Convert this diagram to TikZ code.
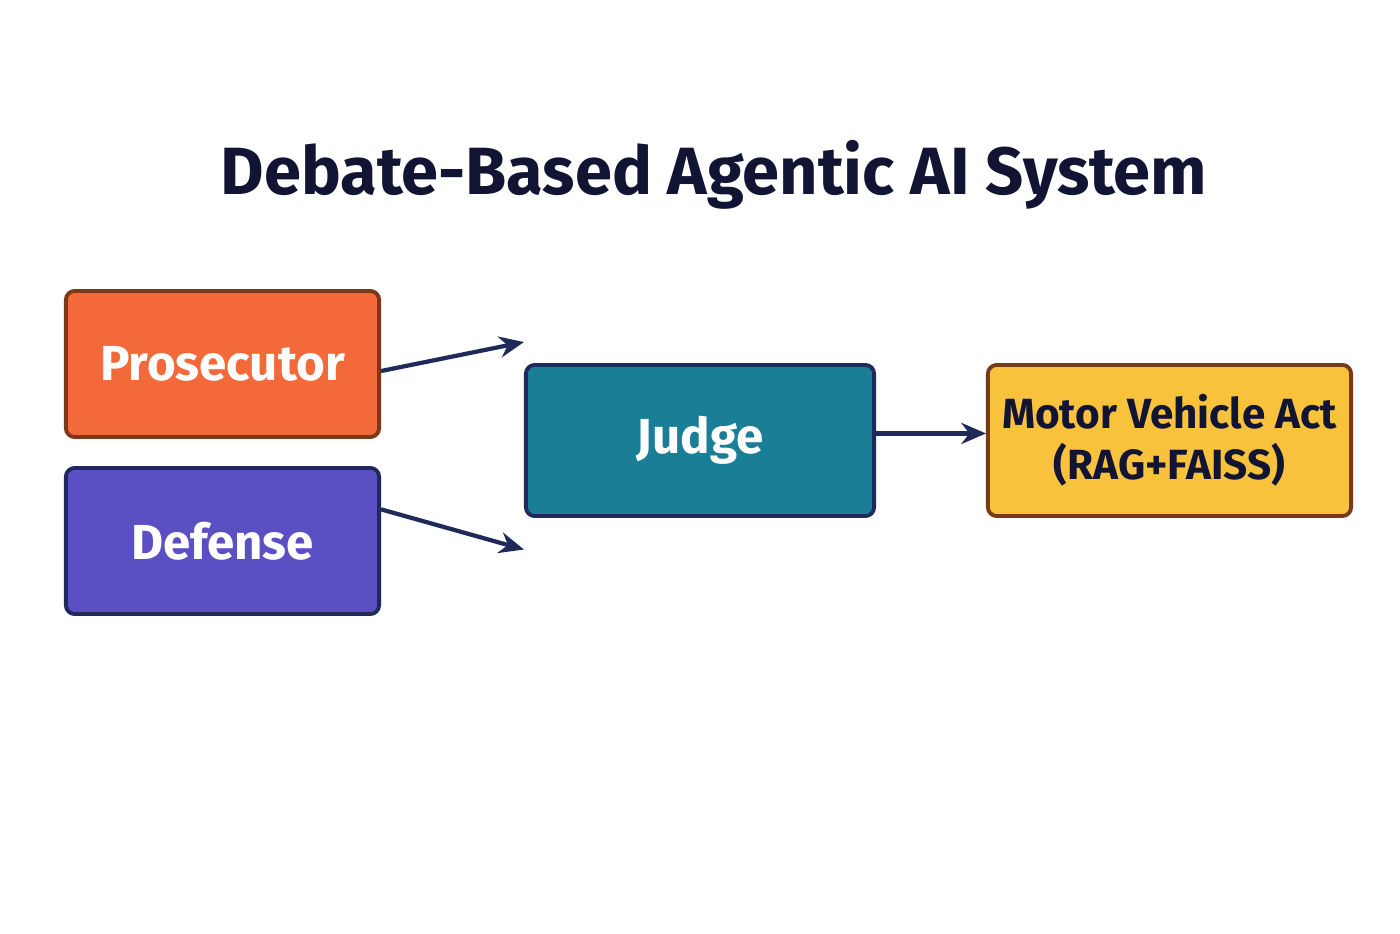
\documentclass[tikz,border=0pt]{standalone}
\usepackage{fontspec}
\setmainfont{Fira Sans}
\usetikzlibrary{arrows.meta}
\definecolor{navy}{HTML}{1F2A5A}
\definecolor{brownb}{HTML}{7A3A1A}
\definecolor{cpros}{HTML}{F4693A}
\definecolor{cdef}{HTML}{5B4FC4}
\definecolor{cjudge}{HTML}{1A7F96}
\definecolor{cmva}{HTML}{F9C23C}
\definecolor{ctext}{HTML}{111533}
\tikzset{
  box/.style={draw, line width=1.1pt, rounded corners=2.5pt, minimum width=3.13cm, minimum height=1.46cm, font=\fontsize{14}{16}\selectfont\bfseries, inner sep=0pt},
  conn/.style={draw=navy, line width=1.2pt, -{Stealth[length=7pt,width=6pt]}}
}
\begin{document}
\begin{tikzpicture}[x=0.01cm,y=0.01cm]
\useasboundingbox[fill=white] (0,0) rectangle (1400,933);
\node[text=ctext, font=\fontsize{19}{22}\selectfont\bfseries] (title) at (714,758) {Debate-Based Agentic AI System};
\node[box, fill=cpros, draw=brownb, text=white] (pros) at (222.5,569) {Prosecutor};
\node[box, fill=cdef, draw=navy, text=white] (def) at (222.5,392) {Defense};
\node[box, fill=cjudge, draw=navy, text=white, minimum width=3.48cm, minimum height=1.51cm] (judge) at (700,492.5) {Judge};
\node[box, fill=cmva, draw=brownb, text=ctext, minimum width=3.63cm, minimum height=1.51cm, align=center, font=\fontsize{12}{14.5}\selectfont\bfseries] (mva) at (1169.5,492.5) {Motor Vehicle Act\\(RAG+FAISS)};
\draw[conn] ([yshift=-2]pros.east) -- ([yshift=28]judge.west);
\draw[conn] ([yshift=9]def.east) -- ([yshift=-31]judge.west);
\draw[conn] ([yshift=2]judge.east) -- ([yshift=2]mva.west);
\end{tikzpicture}
\end{document}
